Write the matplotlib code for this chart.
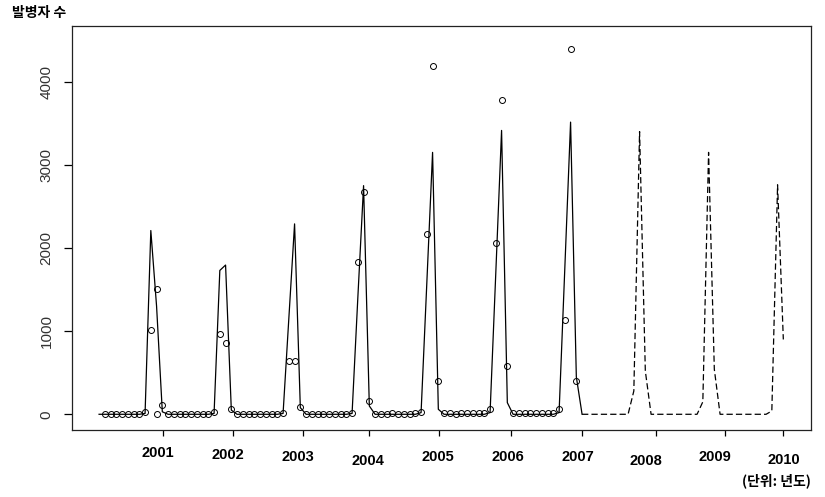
"""
Monthly patient counts 2000-2006 (observed, circles) with fitted curve
and forecast to 2010 (dashed).
"""
import numpy as np
import matplotlib
matplotlib.use("Agg")
import matplotlib.pyplot as plt

# ── Data (month index 0 = first month on the chart) ──────────────────────────
obs_month = list(range(1, 84))
obs_count = [0, 0, 0, 0, 0, 0, 0, 25, 1016, 1506, 112,
             0, 0, 0, 0, 0, 0, 0, 0, 33, 964, 852, 69,
             0, 0, 0, 0, 0, 0, 0, 0, 20, 642, 642, 90,
             0, 0, 0, 0, 0, 0, 0, 0, 20, 1835, 2671, 160,
             0, 5, 0, 10, 0, 5, 0, 10, 30, 2169, 4185, 402,
             10, 20, 5, 15, 20, 10, 15, 20, 60, 2056, 3775, 582,
             20, 10, 15, 20, 10, 15, 20, 10, 60, 1133, 4390, 402]
# one extra observation drawn on top of the 2001 peak month
extra_month = [10]
extra_count = [0]

fit_month = list(range(0, 85))
fit_count = [0, 0, 0, 0, 0, 0, 0, 0, 10, 2210, 1300, 30,
             0, 0, 0, 0, 0, 0, 0, 0, 10, 1730, 1795, 50,
             0, 0, 0, 0, 0, 0, 0, 0, 10, 1150, 2290, 80,
             0, 0, 0, 0, 0, 0, 0, 0, 10, 1400, 2750, 100,
             0, 0, 0, 0, 0, 0, 0, 0, 20, 1580, 3150, 60,
             0, 0, 0, 0, 0, 0, 0, 0, 20, 1710, 3414, 140,
             0, 0, 0, 0, 0, 0, 0, 0, 20, 1760, 3514, 450, 0]

fc_month = list(range(84, 120))
fc_count = [0, 0, 0, 0, 0, 0, 0, 0, 0, 280, 3400, 520, 0,
            0, 0, 0, 0, 0, 0, 0, 0, 150, 3150, 540, 0,
            0, 0, 0, 0, 0, 0, 0, 0, 40, 2760, 900]

tick_pos   = [11.1, 23.3, 35.5, 47.0, 59.1, 71.6, 84.0, 96.8, 108.9, 119.0]
year_pos   = [10.2, 22.4, 34.6, 46.8, 58.9, 71.1, 83.3, 95.1, 107.1, 119.1]
year_label = ["2001", "2002", "2003", "2004", "2005",
              "2006", "2007", "2008", "2009", "2010"]
# vertical placement of each year label (axes fraction, below the box)
year_y     = [-0.057, -0.062, -0.067, -0.077, -0.067,
              -0.067, -0.067, -0.077, -0.067, -0.074]

y_ticks = [0, 1000, 2000, 3000, 4000]

KFONT = ["Noto Sans CJK KR", "DejaVu Sans"]

# ── Figure ───────────────────────────────────────────────────────────────────
fig = plt.figure(figsize=(8.25, 4.97), dpi=100)
fig.patch.set_facecolor("white")
ax = fig.add_axes([71.7 / 825, 1 - 430 / 497, 739 / 825, 404 / 497])

ax.plot(fit_month, fit_count, "-", color="black", lw=0.9)
ax.plot(fc_month, fc_count, color="black", lw=0.9, linestyle=(0, (5, 2.5)))
ax.plot(obs_month, obs_count, "o", mfc="none", mec="black", ms=4.3, mew=0.7)
ax.plot(extra_month, extra_count, "o", mfc="none", mec="black", ms=4.3,
        mew=0.7)

ax.set_xlim(-4.76, 123.76)
ax.set_ylim(-189, 4670)

for side in ax.spines.values():
    side.set_linewidth(0.9)
    side.set_color("#222222")

ax.set_yticks(y_ticks)
ax.set_yticklabels([str(v) for v in y_ticks], rotation=90, va="center",
                   family=["Liberation Sans", "DejaVu Sans"], fontsize=11,
                   color="#333333")
ax.tick_params(axis="y", length=6, width=0.9, pad=7)

ax.set_xticks(tick_pos)
ax.set_xticklabels([""] * len(tick_pos))
ax.tick_params(axis="x", length=4, width=0.9)

for xp, yp, lab in zip(year_pos, year_y, year_label):
    ax.text(xp, yp, lab, transform=ax.get_xaxis_transform(), ha="center",
            va="center", fontsize=10.5, fontweight="bold",
            family=["Liberation Sans Narrow", "Liberation Sans"])

fig.text(11.7 / 825, 1 - 13 / 497, "발병자 수", ha="left", va="center",
         fontsize=10, fontweight="bold", family=KFONT)
fig.text(811 / 825, 1 - 481 / 497, "(단위: 년도)", ha="right", va="center",
         fontsize=10, fontweight="bold", family=KFONT)

fig.savefig("out.png", dpi=100, facecolor="white")
plt.close(fig)
